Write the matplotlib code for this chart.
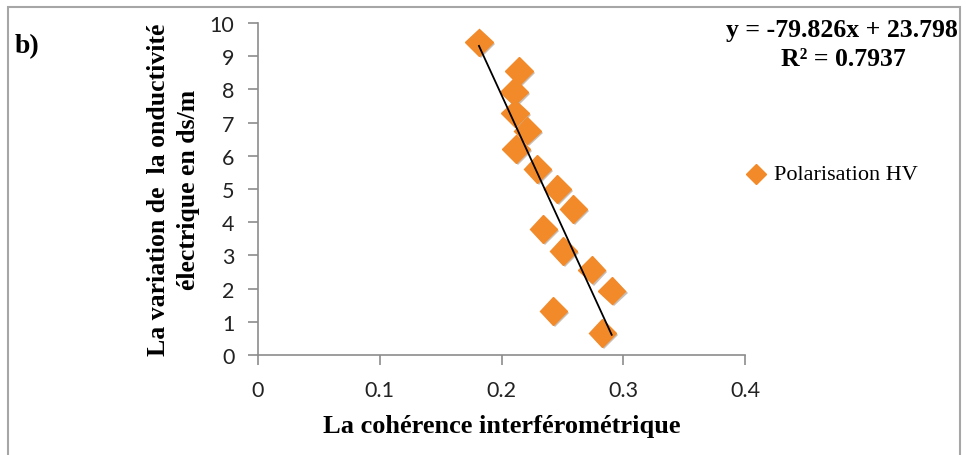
import numpy as np
import matplotlib
matplotlib.use("Agg")
from matplotlib import pyplot as plt
from matplotlib import patheffects as pe
from matplotlib.patches import Rectangle

# Data
coherence = [0.1815, 0.2144, 0.2103, 0.2110, 0.2212, 0.2119, 0.2294, 0.2459,
             0.2590, 0.2343, 0.2508, 0.2740, 0.2905, 0.2426, 0.2828]
conductivity = [9.42, 8.56, 7.93, 7.28, 6.76, 6.20, 5.60, 5.00,
                4.40, 3.80, 3.14, 2.57, 1.94, 1.33, 0.66]
slope = -79.826
intercept = 23.798
r2 = 0.7937
x_ticks = [0, 0.1, 0.2, 0.3, 0.4]
x_tick_labels = ['0', '0.1', '0.2', '0.3', '0.4']
y_ticks = list(range(0, 11))

orange = '#F28A2A'
grey = '#8C8C8C'
serif = ['Liberation Serif', 'DejaVu Serif']
sans = ['Lato', 'DejaVu Sans']


def main():
    fig = plt.figure(figsize=(9.66, 4.56), dpi=100)

    # Outer frame
    fig.patches.append(Rectangle((8 / 966, -0.05), 952 / 966, 1.05 - 8 / 456,
                                 transform=fig.transFigure, fill=False,
                                 edgecolor='#A6A6A6', linewidth=1.5))

    ax = fig.add_axes([258 / 966, 1 - 356 / 456, 487 / 966, 332 / 456])

    # Scatter points with a soft shadow
    ax.plot(coherence, conductivity, linestyle='none', marker='D',
            markersize=14, color=orange, markeredgecolor=orange, zorder=3,
            path_effects=[pe.SimplePatchShadow(offset=(1.5, -1.5), alpha=0.3),
                          pe.Normal()])

    # Linear trendline
    xs = np.array([min(coherence), max(coherence)])
    ax.plot(xs, slope * xs + intercept, color='black', linewidth=1.3, zorder=4)

    ax.set_xlim(0, 0.4)
    ax.set_ylim(0, 10)
    ax.set_xticks(x_ticks)
    ax.set_xticklabels(x_tick_labels)
    ax.set_yticks(y_ticks)

    for side in ['top', 'right']:
        ax.spines[side].set_visible(False)
    for side in ['left', 'bottom']:
        ax.spines[side].set_color(grey)
        ax.spines[side].set_linewidth(1.2)

    ax.tick_params(axis='both', direction='out', length=7, width=1.2,
                   color=grey, labelsize=15.5, labelcolor='#222222')
    ax.tick_params(axis='x', pad=11)
    ax.tick_params(axis='y', pad=10)
    for lbl in ax.get_xticklabels() + ax.get_yticklabels():
        lbl.set_family(sans)

    ax.set_xlabel('La cohérence interférométrique', family=serif,
                  fontweight='bold', fontsize=19, labelpad=10)
    ax.set_ylabel('La variation de  la onductivité\nélectrique en ds/m',
                  family=serif, fontweight='bold', fontsize=18.5,
                  labelpad=7, linespacing=1.4)

    # Panel letter
    fig.text(15 / 966, 1 - 47 / 456, 'b)', family=serif, fontweight='bold',
             fontsize=20, va='center', ha='left')

    # Trendline equation
    fig.text(958 / 966, 1 - 30 / 456, f'y = {slope}x + {intercept}',
             family=serif, fontweight='bold', fontsize=18.5, ha='right',
             va='center')
    fig.text(843 / 966, 1 - 59 / 456, f'R² = {r2}', family=serif,
             fontweight='bold', fontsize=18.5, ha='center', va='center')

    # Legend
    fig.lines.append(plt.Line2D([756 / 966], [1 - 175 / 456],
                                transform=fig.transFigure, marker='D',
                                markersize=10, color=orange,
                                linestyle='none'))
    fig.text(774 / 966, 1 - 175 / 456, 'Polarisation HV', family=serif,
             fontsize=16, ha='left', va='center')

    fig.savefig('out.png', dpi=100)


if __name__ == "__main__":
    main()
